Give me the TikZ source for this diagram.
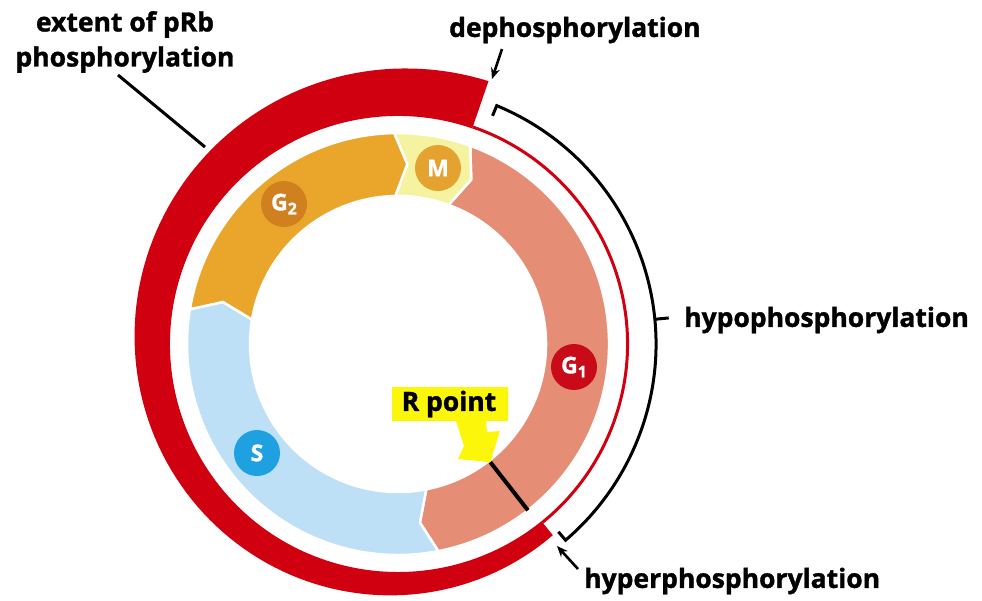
\documentclass[tikz,border=0pt]{standalone}
\usepackage{fontspec}
\setmainfont{Open Sans}[BoldFeatures={FakeBold=1.3}]
\usetikzlibrary{arrows.meta}
\definecolor{redband}{RGB}{208,0,16}
\definecolor{gonecol}{RGB}{229,142,117}
\definecolor{scol}{RGB}{190,224,246}
\definecolor{gtwocol}{RGB}{233,166,43}
\definecolor{mcol}{RGB}{246,243,160}
\definecolor{gonecirc}{RGB}{200,10,25}
\definecolor{scirc}{RGB}{30,160,225}
\definecolor{gtwocirc}{RGB}{208,128,30}
\definecolor{mcirc}{RGB}{228,162,48}
\definecolor{callout}{RGB}{252,247,10}
\begin{document}
\begin{tikzpicture}[x=1pt,y=1pt,
  lbl/.style={font=\bfseries\fontsize{26.5}{35}\selectfont, inner sep=0pt, text=black},
  phasecirc/.style={circle, minimum size=46pt, inner sep=0pt, text=white, font=\bfseries\fontsize{23}{23}\selectfont},
  phasefill/.style={draw=white, line width=2.5pt, line join=miter},
  blackline/.style={line width=3pt, black},
  ptr/.style={line width=2.6pt, -{Stealth[length=11pt,width=9pt]}}
]
\useasboundingbox (0,0) rectangle (982,-600);
\fill[white] (0,0) rectangle (982,-600);
\begin{scope}[shift={(398,-344)}]
  % red spiral band (extent of pRb phosphorylation)
  \fill[redband] plot[domain=0:238, samples=120] ({-51-\x}:{246+32*\x/238})
     -- (-289:228) arc[start angle=-289, end angle=-51, radius=228] -- cycle;
  \draw[redband, line width=3pt] (71:229.5) arc[start angle=71, end angle=-51, radius=229.5];
  % phases
  \filldraw[fill=gonecol, phasefill] (70:211) arc[start angle=70, end angle=-79, radius=211]
     -- (-83:180) -- (-79:148) arc[start angle=-79, end angle=70, radius=148] -- (66:180) -- cycle;
  \filldraw[fill=scol, phasefill] (-79:211) arc[start angle=-79, end angle=-189.5, radius=211]
     -- (-193.5:180) -- (-189.5:148) arc[start angle=-189.5, end angle=-79, radius=148] -- (-83:180) -- cycle;
  \filldraw[fill=gtwocol, phasefill] (-189.5:211) arc[start angle=-189.5, end angle=-269, radius=211]
     -- (-273:180) -- (-269:148) arc[start angle=-269, end angle=-189.5, radius=148] -- (-193.5:180) -- cycle;
  \filldraw[fill=mcol, phasefill] (-269:211) arc[start angle=-269, end angle=-290, radius=211]
     -- (-294:180) -- (-290:148) arc[start angle=-290, end angle=-269, radius=148] -- (-273:180) -- cycle;
  % restriction point line
  \coordinate (rin) at (-52:150);
  \coordinate (rout) at (-52:211);
  \draw[black, line width=4pt] (rin) -- (rout);
  % bracket for hypophosphorylation
  \coordinate (bA) at (67.5:247);
  \coordinate (bB) at (67.5:258);
  \coordinate (bC) at (-49.5:258);
  \coordinate (bD) at (-49.5:247);
  \coordinate (bT) at (5.5:258);
  \coordinate (bU) at (5.5:272);
  \draw[blackline, line join=miter] (bA) -- (bB) arc[start angle=67.5, end angle=-49.5, radius=258] -- (bD);
  \draw[blackline] (bT) -- (bU);
\end{scope}
% phase labels
\node[phasecirc, fill=gtwocirc] (g2) at (284,-204) {G\raisebox{-4pt}{\fontsize{16}{16}\selectfont 2}};
\node[phasecirc, fill=mcirc] (m) at (438,-168) {M};
\node[phasecirc, fill=gonecirc] (g1) at (574,-367) {G\raisebox{-4pt}{\fontsize{16}{16}\selectfont 1}};
\node[phasecirc, fill=scirc] (s) at (257,-453) {S};
% R point callout
\fill[callout] (392,-387) -- (508,-387) -- (508,-421) -- (486,-421) -- (487,-432) -- (500,-431)
   -- (rin) -- (458,-459) -- (464,-446) -- (456,-421) -- (392,-421) -- cycle;
\node[lbl] (rpoint) at (449,-404) {R point};
% text labels
\node[lbl, align=center] (extent) at (125,-42) {extent of pRb\\phosphorylation};
\node[lbl, anchor=west] (dephos) at (449,-30) {dephosphorylation};
\node[lbl, anchor=west] (hypo) at (684,-320) {hypophosphorylation};
\node[lbl, anchor=west] (hyper) at (584,-581) {hyperphosphorylation};
% connectors
\coordinate (extA) at (118,-75);
\coordinate (extB) at (205,-147);
\draw[blackline] (extA) -- (extB);
\coordinate (depA) at (502,-49);
\coordinate (depB) at (492,-79);
\draw[ptr] (depA) -- (depB);
\coordinate (hypA) at (578,-569);
\coordinate (hypB) at (557,-546);
\draw[ptr] (hypA) -- (hypB);
\end{tikzpicture}
\end{document}
